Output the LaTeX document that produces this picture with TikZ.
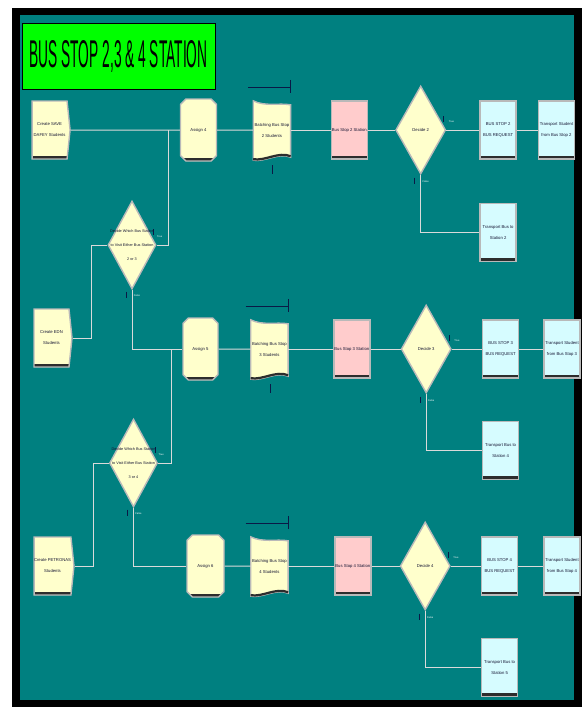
\documentclass[tikz,border=0pt]{standalone}
\usepackage{fontspec}
\setmainfont{Liberation Sans}
\usepackage{graphicx}
\usetikzlibrary{positioning, shapes.geometric, shapes.misc, shapes.symbols, backgrounds}
\definecolor{ArenaTeal}{RGB}{0,128,128}
\definecolor{TitleGreen}{RGB}{0,255,0}
\definecolor{ArenaYellow}{RGB}{255,255,204}
\definecolor{ArenaPink}{RGB}{255,204,204}
\definecolor{ArenaCyan}{RGB}{214,252,255}
\definecolor{LinkGray}{RGB}{218,218,218}
\definecolor{DarkNavy}{RGB}{10,25,70}
\definecolor{ModText}{RGB}{20,20,50}

\begin{document}
\begin{tikzpicture}[
    x=1pt, y=-1pt,
    font=\fontsize{4.2}{11}\selectfont,
    module/.style={draw=gray!55, line width=1.4pt, text=ModText, align=center,
        inner sep=0pt, minimum width=36pt, minimum height=58pt,
        path picture={\fill[gray!35!black] (path picture bounding box.south west)
            rectangle ([yshift=3pt]path picture bounding box.south east);}},
    createbox/.style={module, shape=signal, signal to=east, signal pointer angle=168,
        fill=ArenaYellow, minimum width=38pt},
    assignbox/.style={module, chamfered rectangle, chamfered rectangle xsep=7pt,
        fill=ArenaYellow, minimum height=62pt},
    batchbox/.style={rectangle, text=ModText, align=center, inner sep=0pt,
        minimum width=37pt, minimum height=60pt},
    stationbox/.style={module, fill=ArenaPink},
    xferbox/.style={module, fill=ArenaCyan},
    decidebox/.style={diamond, draw=gray!55, line width=1.4pt, fill=ArenaYellow,
        text=ModText, align=center, inner sep=0pt,
        minimum width=50pt, minimum height=88pt},
    decidetext/.style={text=ModText, align=center, inner sep=0pt,
        font=\fontsize{3.8}{14}\selectfont},
    waveshape/.style={draw=gray!55, line width=1.4pt, fill=ArenaYellow},
    link/.style={draw=LinkGray, line width=1pt},
    bar/.style={draw=DarkNavy, line width=1pt},
    tinylabel/.style={text=white, inner sep=0pt, font=\fontsize{2.5}{3}\selectfont},
]
\useasboundingbox (0,0) rectangle (582,709);

% fondo y marco
\begin{scope}[on background layer]
\fill[white] (0,0) rectangle (582,709);
\fill[black] (12,8) rectangle (582,707);
\fill[ArenaTeal] (20,15) rectangle (574,700);
\end{scope}

% titulo
\node[draw=black, fill=TitleGreen, inner sep=0pt, minimum width=193pt,
      minimum height=66pt] (title) at (118.5,56)
    {\resizebox{178pt}{27pt}{BUS STOP 2,3 \& 4 STATION}};

% fila de la parada 2
\node[assignbox] (assign4) at (198.5,130) {Assign 4};
\node[createbox, left=109pt of assign4] (create1) {Create SAVE\\DAFEY Students};
\node[batchbox, right=36pt of assign4] (b2) {Batching Bus Stop\\2 Students};
\node[stationbox, right=40pt of b2] (st2) {Bus Stop 2 Station};
\node[decidebox, right=27pt of st2] (dec2) {Decide 2};
\node[xferbox, right=33pt of dec2] (req2) {BUS STOP 2\\BUS REQUEST};
\node[xferbox, right=21pt of req2] (tr2) {Transport Student\\from Bus Stop 2};
\node[xferbox, below=43pt of req2] (bus2) {Transport Bus to\\Station 2};

% reparto entre parada 2 y 3
\node[decidebox, minimum width=48pt] (decL1) at (132,245) {};
\node[decidetext] (decL1txt) at (decL1)
    {Decide Which Bus Station\\to Visit Either Bus Station\\2 or 3};
\node[createbox] (create2) at (51.5,338) {Create EDN\\Students};

% fila de la parada 3
\node[assignbox, minimum width=35pt] (assign5) at (200.5,349) {Assign 5};
\node[batchbox, right=32pt of assign5] (b3) {Batching Bus Stop\\3 Students};
\node[stationbox, right=45pt of b3] (st3) {Bus Stop 3 Station};
\node[decidebox, right=30pt of st3] (dec3) {Decide 3};
\node[xferbox, right=30pt of dec3] (req3) {BUS STOP 3\\BUS REQUEST};
\node[xferbox, right=24pt of req3] (tr3) {Transport Student\\from Bus Stop 3};
\node[xferbox, below=42pt of req3] (bus4) {Transport Bus to\\Station 4};

% reparto entre parada 3 y 4
\node[decidebox, minimum width=48pt] (decL2) at (133.5,463) {};
\node[decidetext] (decL2txt) at (decL2)
    {Decide Which Bus Station\\to Visit Either Bus Station\\3 or 4};
\node[createbox, minimum width=39pt] (create3) at (52.5,566) {Create PETRONAS\\Students};

% fila de la parada 4
\node[assignbox, minimum width=37pt] (assign6) at (205.5,566) {Assign 6};
\node[batchbox, right=26pt of assign6] (b4) {Batching Bus Stop\\4 Students};
\node[stationbox, right=46pt of b4] (st4) {Bus Stop 4 Station};
\node[decidebox, right=28pt of st4] (dec4) {Decide 4};
\node[xferbox, right=30pt of dec4] (req4) {BUS STOP 4\\BUS REQUEST};
\node[xferbox, right=25pt of req4] (tr4) {Transport Student\\from Bus Stop 4};
\node[xferbox, below=42pt of req4] (bus5) {Transport Bus to\\Station 5};

% forma de los batch
\begin{scope}[on background layer]
\filldraw[waveshape] ([shift={(0,1)}]b2.north west) .. controls +(12,6) and +(-12,-2) .. ([shift={(0,5)}]b2.north east)
    -- ([shift={(0,-3)}]b2.south east) .. controls +(-12,-5) and +(12,2) .. (b2.south west) -- cycle;
\filldraw[waveshape] ([shift={(0,1)}]b3.north west) .. controls +(12,6) and +(-12,-2) .. ([shift={(0,5)}]b3.north east)
    -- ([shift={(0,-3)}]b3.south east) .. controls +(-12,-5) and +(12,2) .. (b3.south west) -- cycle;
\filldraw[waveshape] ([shift={(0,1)}]b4.north west) .. controls +(12,6) and +(-12,-2) .. ([shift={(0,5)}]b4.north east)
    -- ([shift={(0,-3)}]b4.south east) .. controls +(-12,-5) and +(12,2) .. (b4.south west) -- cycle;
\end{scope}
\draw[gray!35!black, line width=2.2pt] ([shift={(0,-4)}]b2.south east) .. controls +(-12,-5) and +(12,2) .. ([shift={(0,-1)}]b2.south west);
\draw[gray!35!black, line width=2.2pt] ([shift={(0,-4)}]b3.south east) .. controls +(-12,-5) and +(12,2) .. ([shift={(0,-1)}]b3.south west);
\draw[gray!35!black, line width=2.2pt] ([shift={(0,-4)}]b4.south east) .. controls +(-12,-5) and +(12,2) .. ([shift={(0,-1)}]b4.south west);

% barras de los batch
\draw[bar] ([shift={(-5,-12)}]b2.north west) -- ([shift={(0,-12)}]b2.north east)
    ([shift={(0,-20)}]b2.north east) -- ([shift={(0,-7)}]b2.north east)
    ([shift={(1,5)}]b2.south) -- ++(0,9);
\draw[bar] ([shift={(-5,-12)}]b3.north west) -- ([shift={(0,-12)}]b3.north east)
    ([shift={(0,-20)}]b3.north east) -- ([shift={(0,-7)}]b3.north east)
    ([shift={(1,5)}]b3.south) -- ++(0,9);
\draw[bar] ([shift={(-5,-12)}]b4.north west) -- ([shift={(0,-12)}]b4.north east)
    ([shift={(0,-20)}]b4.north east) -- ([shift={(0,-7)}]b4.north east);

% conectores
\coordinate (j1) at (168,130);
\coordinate (j2) at (171,349);
\draw[link] (create1) -- (assign4);
\draw[link] (assign4) -- (b2);
\draw[link] (b2) -- (st2);
\draw[link] (st2) -- (dec2);
\draw[link] (dec2) -- (req2);
\draw[link] (req2) -- (tr2);
\draw[link] (dec2.south) |- (bus2);
\draw[link] (create2.east) -- ++(19,0) |- (decL1.west);
\draw[link] (decL1.east) -| (j1);
\draw[link] (decL1.south) |- (assign5);
\draw[link] (assign5) -- (b3);
\draw[link] (b3) -- (st3);
\draw[link] (st3) -- (dec3);
\draw[link] (dec3) -- (req3);
\draw[link] (req3) -- (tr3);
\draw[link] (dec3.south) |- (bus4);
\draw[link] (create3.east) -- ++(19,0) |- (decL2.west);
\draw[link] (decL2.east) -| (j2);
\draw[link] (decL2.south) |- (assign6);
\draw[link] (assign6) -- (b4);
\draw[link] (b4) -- (st4);
\draw[link] (st4) -- (dec4);
\draw[link] (dec4) -- (req4);
\draw[link] (req4) -- (tr4);
\draw[link] (dec4.south) |- (bus5);

% marcas true / false
\draw[bar, line width=0.8pt] ([shift={(-3,-14)}]dec2.east) -- ++(0,6) ([shift={(-6,3)}]dec2.south) -- ++(0,6);
\draw[bar, line width=0.8pt] ([shift={(-3,-14)}]dec3.east) -- ++(0,6) ([shift={(-6,3)}]dec3.south) -- ++(0,6);
\draw[bar, line width=0.8pt] ([shift={(-3,-14)}]dec4.east) -- ++(0,6) ([shift={(-6,3)}]dec4.south) -- ++(0,6);
\draw[bar, line width=0.8pt] ([shift={(-3,-16)}]decL1.east) -- ++(0,6) ([shift={(-6,2)}]decL1.south) -- ++(0,6);
\draw[bar, line width=0.8pt] ([shift={(-3,-16)}]decL2.east) -- ++(0,6) ([shift={(-6,2)}]decL2.south) -- ++(0,6);
\node[tinylabel] (t2) at ([shift={(5,-8)}]dec2.east) {True};
\node[tinylabel] (f2) at ([shift={(5,7)}]dec2.south) {False};
\node[tinylabel] (t3) at ([shift={(5,-8)}]dec3.east) {True};
\node[tinylabel] (f3) at ([shift={(5,7)}]dec3.south) {False};
\node[tinylabel] (t4) at ([shift={(5,-8)}]dec4.east) {True};
\node[tinylabel] (f4) at ([shift={(5,7)}]dec4.south) {False};
\node[tinylabel] (tL1) at ([shift={(3,-8)}]decL1.east) {True};
\node[tinylabel] (fL1) at ([shift={(5,6)}]decL1.south) {False};
\node[tinylabel] (tL2) at ([shift={(3,-8)}]decL2.east) {True};
\node[tinylabel] (fL2) at ([shift={(5,6)}]decL2.south) {False};

\end{tikzpicture}
\end{document}
